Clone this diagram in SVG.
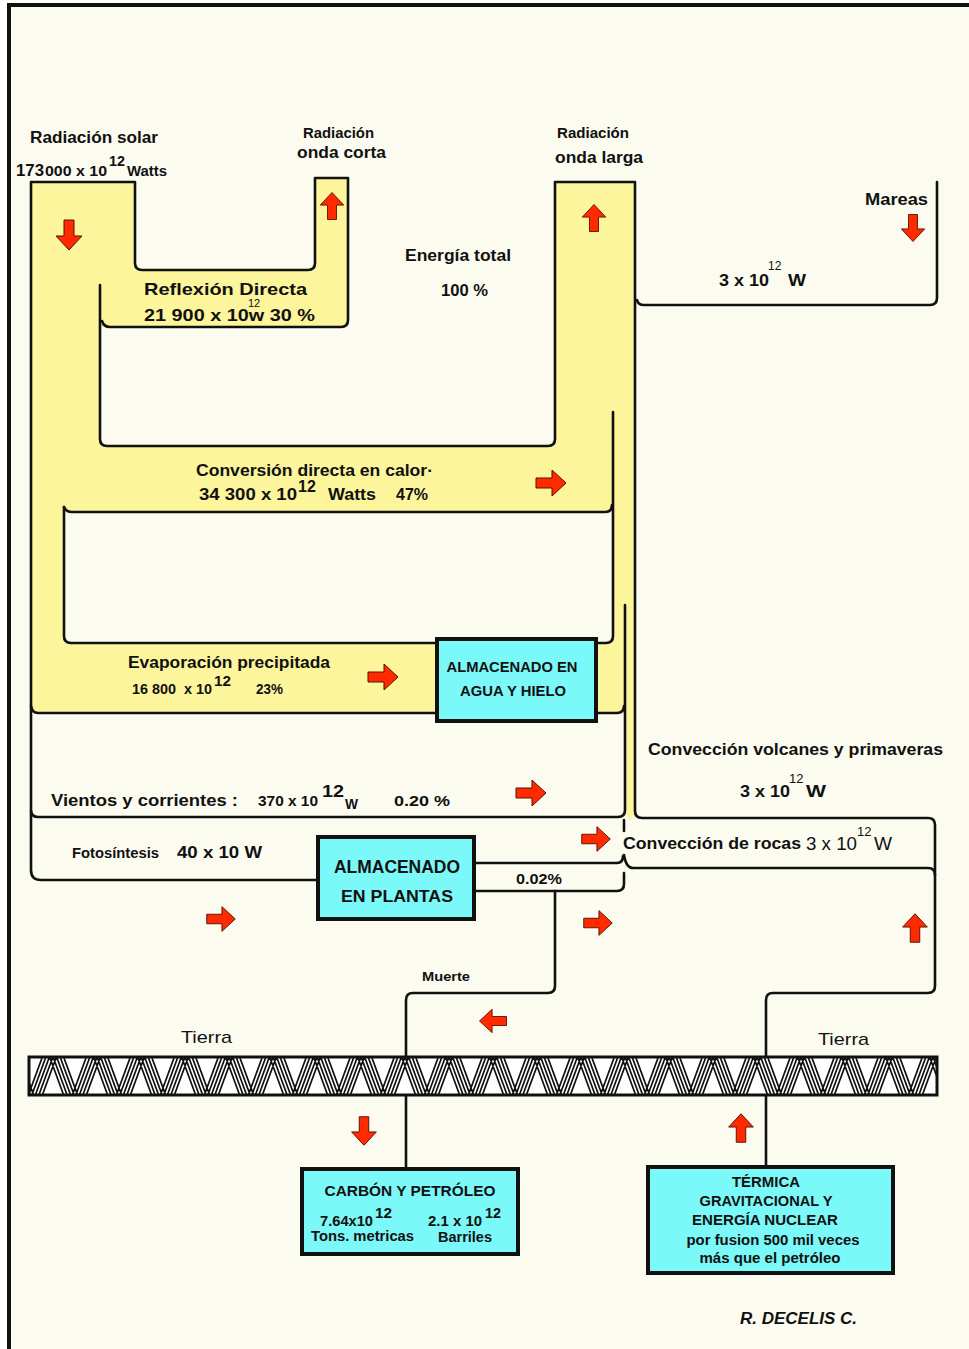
<svg xmlns="http://www.w3.org/2000/svg" xmlns:xlink="http://www.w3.org/1999/xlink" width="969" height="1349" viewBox="0 0 969 1349">
<style>
.t{font-family:"Liberation Sans",Arial,sans-serif;font-weight:bold;fill:#111}
.n{font-family:"Liberation Sans",Arial,sans-serif;font-weight:normal;fill:#111}
.ln{fill:none;stroke:#111;stroke-width:2.6;stroke-linejoin:round;stroke-linecap:round}
.box{fill:#7BF8F8;stroke:#111;stroke-width:4}
.arr{fill:#FF2A00;stroke:#5a1000;stroke-width:1}
</style>
<defs>
<path id="ar" d="M-15,-5 L1,-5 L1,-13 L15,0 L1,13 L1,5 L-15,5 Z"/>
<pattern id="hatch" x="28" y="1058" width="44" height="38" patternUnits="userSpaceOnUse">
<rect width="44" height="38" fill="#fff"/>
<path d="M0,38 L14,0 M3.5,38 L17.5,0 M7,38 L21,0 M10.5,38 L24.5,0 M14,38 L28,0 M-44,38 L-30,0 M22,0 L36,38 M25.5,0 L39.5,38 M29,0 L43,38 M32.5,0 L46.5,38 M36,0 L50,38 M-22,0 L-8,38 M-18.5,0 L-4.5,38 M-15,0 L-1,38 M-11.5,0 L2.5,38 M-8,0 L6,38" stroke="#111" stroke-width="1.7" fill="none"/>
</pattern>
</defs>
<rect width="969" height="1349" fill="#fff"/>
<rect x="9" y="5" width="960" height="1344" fill="#FBFBF0"/>
<line x1="9" y1="3" x2="9" y2="1349" stroke="#111" stroke-width="4"/>
<line x1="7" y1="5" x2="969" y2="5" stroke="#111" stroke-width="4"/>

<g id="flujo-amarillo">
<path fill="#FCF59B" fill-rule="evenodd" d="M31,182 L135,182 L135,270 L315,270 L315,178 L348,178 L348,327 L100,327 L100,446 L555,446 L555,182 L635,182 L635,812 L630,821 L625,812 L625,713 L31,713 Z M64,512 L612,512 L612,643 L64,643 Z"/>
</g>

<g id="conectores">
<path class="ln" d="M100,285 L100,439 Q100,446 107,446 L548,446 Q555,446 555,439 L555,182 L635,182 L635,811 Q635,818 642,818 L928,818 Q935,818 935,825 L935,986 Q935,993 928,993 L773,993 Q766,993 766,1000 L766,1057"/>
<path class="ln" d="M102,321 Q104,327 110,327 L341,327 Q348,327 348,320 L348,178 L315,178 L315,263 Q315,270 308,270 L142,270 Q135,270 135,263 L135,182 L31,182 L31,870 Q31,880 41,880 L318,880"/>
<path class="ln" d="M637,300 Q638,305 644,305 L930,305 Q937,305 937,298 L937,182"/>
<path class="ln" d="M64,507 L64,636 Q64,643 71,643 L437,643"/>
<path class="ln" d="M64,507 Q66,512 72,512 L605,512 Q612,512 612,505"/>
<path class="ln" d="M613,412 L613,636 Q613,643 606,643 L596,643"/>
<path class="ln" d="M31,706 Q32,713 38,713 L437,713"/>
<path class="ln" d="M596,713 L617,713 Q624,713 624,706"/>
<path class="ln" d="M625,605 L625,810 Q625,817 618,817 L38,817 Q32,817 31,811"/>
<path class="ln" d="M624,820 L624,831"/>
<path class="ln" d="M624,855 Q626,868 633,868 L928,868 Q935,868 935,875"/>
<path class="ln" d="M474,863 L617,863 Q623,863 623,856"/>
<path class="ln" d="M474,891 L617,891 Q624,891 624,884 L624,873"/>
<path class="ln" d="M555,891 L555,986 Q555,993 548,993 L413,993 Q406,993 406,1000 L406,1057"/>
<path class="ln" d="M406,1095 L406,1168"/>
<path class="ln" d="M766,1095 L766,1166"/>
</g>

<g id="tierra">
<rect x="29" y="1057" width="908" height="38" fill="url(#hatch)" stroke="#111" stroke-width="3"/>
<text class="n" x="181" y="1043" font-size="17" textLength="51" lengthAdjust="spacingAndGlyphs">Tierra</text>
<text class="n" x="818" y="1045" font-size="17" textLength="51" lengthAdjust="spacingAndGlyphs">Tierra</text>
</g>

<g id="flechas">
<use href="#ar" class="arr" transform="translate(69,235) rotate(90)"/>
<use href="#ar" class="arr" transform="translate(332,206) rotate(-90) scale(0.9)"/>
<use href="#ar" class="arr" transform="translate(594,218) rotate(-90) scale(0.9)"/>
<use href="#ar" class="arr" transform="translate(913,228) rotate(90) scale(0.9)"/>
<use href="#ar" class="arr" transform="translate(551,483)"/>
<use href="#ar" class="arr" transform="translate(383,677)"/>
<use href="#ar" class="arr" transform="translate(531,793)"/>
<use href="#ar" class="arr" transform="translate(221,919) scale(0.95)"/>
<use href="#ar" class="arr" transform="translate(596,839) scale(0.95)"/>
<use href="#ar" class="arr" transform="translate(598,923) scale(0.95)"/>
<use href="#ar" class="arr" transform="translate(915,928) rotate(-90) scale(0.95)"/>
<use href="#ar" class="arr" transform="translate(493,1021) rotate(180) scale(0.9)"/>
<use href="#ar" class="arr" transform="translate(364,1131) rotate(90) scale(0.95)"/>
<use href="#ar" class="arr" transform="translate(741,1128) rotate(-90) scale(0.95)"/>
</g>

<g id="radiacion-solar">
<text class="t" x="30" y="143" font-size="16" textLength="128" lengthAdjust="spacingAndGlyphs">Radiación solar</text>
<text class="t" x="16" y="176" font-size="16" textLength="28" lengthAdjust="spacingAndGlyphs">173</text>
<text class="t" x="45" y="176" font-size="15" textLength="62" lengthAdjust="spacingAndGlyphs">000 x 10</text>
<text class="t" x="109" y="166" font-size="15" textLength="16" lengthAdjust="spacingAndGlyphs">12</text>
<text class="t" x="127" y="176" font-size="14" textLength="40" lengthAdjust="spacingAndGlyphs">Watts</text>
</g>

<g id="onda-corta">
<text class="t" x="303" y="138" font-size="15" textLength="71" lengthAdjust="spacingAndGlyphs">Radiación</text>
<text class="t" x="297" y="158" font-size="16" textLength="89" lengthAdjust="spacingAndGlyphs">onda corta</text>
</g>

<g id="onda-larga">
<text class="t" x="557" y="138" font-size="15" textLength="72" lengthAdjust="spacingAndGlyphs">Radiación</text>
<text class="t" x="555" y="163" font-size="16" textLength="88" lengthAdjust="spacingAndGlyphs">onda larga</text>
</g>

<g id="mareas">
<text class="t" x="865" y="205" font-size="16" textLength="63" lengthAdjust="spacingAndGlyphs">Mareas</text>
<text class="t" x="719" y="286" font-size="17" textLength="50" lengthAdjust="spacingAndGlyphs">3 x 10</text>
<text class="n" x="768" y="270" font-size="12">12</text>
<text class="t" x="788" y="286" font-size="17" textLength="18" lengthAdjust="spacingAndGlyphs">W</text>
</g>

<g id="energia-total">
<text class="t" x="405" y="261" font-size="16" textLength="106" lengthAdjust="spacingAndGlyphs">Energía total</text>
<text class="t" x="441" y="296" font-size="16" textLength="47" lengthAdjust="spacingAndGlyphs">100 %</text>
</g>

<g id="reflexion">
<text class="t" x="144" y="295" font-size="17" textLength="163" lengthAdjust="spacingAndGlyphs">Reflexión  Directa</text>
<text class="n" x="248" y="307" font-size="11">12</text>
<text class="t" x="144" y="321" font-size="17" textLength="171" lengthAdjust="spacingAndGlyphs">21 900  x  10w  30 %</text>
</g>

<g id="conversion">
<text class="t" x="196" y="476" font-size="16" textLength="237" lengthAdjust="spacingAndGlyphs">Conversión directa en calor·</text>
<text class="t" x="199" y="500" font-size="16" textLength="98" lengthAdjust="spacingAndGlyphs">34 300  x  10</text>
<text class="t" x="298" y="492" font-size="16">12</text>
<text class="t" x="328" y="500" font-size="16" textLength="48" lengthAdjust="spacingAndGlyphs">Watts</text>
<text class="t" x="396" y="500" font-size="16" textLength="32" lengthAdjust="spacingAndGlyphs">47%</text>
</g>

<g id="evaporacion">
<text class="t" x="128" y="668" font-size="16" textLength="202" lengthAdjust="spacingAndGlyphs">Evaporación precipitada</text>
<text class="t" x="132" y="694" font-size="15" textLength="44" lengthAdjust="spacingAndGlyphs">16 800</text>
<text class="t" x="184" y="694" font-size="15" textLength="28" lengthAdjust="spacingAndGlyphs">x 10</text>
<text class="t" x="214" y="686" font-size="15" textLength="17" lengthAdjust="spacingAndGlyphs">12</text>
<text class="t" x="256" y="694" font-size="15" textLength="27" lengthAdjust="spacingAndGlyphs">23%</text>
</g>

<g id="agua-hielo">
<rect class="box" x="437" y="639" width="159" height="82"/>
<text class="t" x="512" y="672" font-size="14" text-anchor="middle" textLength="131" lengthAdjust="spacingAndGlyphs">ALMACENADO EN</text>
<text class="t" x="513" y="696" font-size="14" text-anchor="middle" textLength="106" lengthAdjust="spacingAndGlyphs">AGUA Y HIELO</text>
</g>

<g id="vientos">
<text class="t" x="51" y="806" font-size="16" textLength="187" lengthAdjust="spacingAndGlyphs">Vientos y corrientes :</text>
<text class="t" x="258" y="806" font-size="15" textLength="60" lengthAdjust="spacingAndGlyphs">370 x 10</text>
<text class="t" x="322" y="797" font-size="17" textLength="22" lengthAdjust="spacingAndGlyphs">12</text>
<text class="t" x="345" y="809" font-size="14" textLength="13" lengthAdjust="spacingAndGlyphs">W</text>
<text class="t" x="394" y="806" font-size="15" textLength="56" lengthAdjust="spacingAndGlyphs">0.20  %</text>
</g>

<g id="fotosintesis">
<text class="t" x="72" y="858" font-size="14" textLength="87" lengthAdjust="spacingAndGlyphs">Fotosíntesis</text>
<text class="t" x="177" y="858" font-size="17" textLength="85" lengthAdjust="spacingAndGlyphs">40 x 10 W</text>
</g>

<g id="plantas">
<rect class="box" x="318" y="837" width="156" height="82"/>
<text class="t" x="397" y="873" font-size="18" text-anchor="middle" textLength="126" lengthAdjust="spacingAndGlyphs">ALMACENADO</text>
<text class="t" x="397" y="902" font-size="17" text-anchor="middle" textLength="112" lengthAdjust="spacingAndGlyphs">EN PLANTAS</text>
<text class="t" x="516" y="884" font-size="14" textLength="46" lengthAdjust="spacingAndGlyphs">0.02%</text>
</g>

<g id="conveccion-volcanes">
<text class="t" x="648" y="755" font-size="16" textLength="295" lengthAdjust="spacingAndGlyphs">Convección volcanes y primaveras</text>
<text class="t" x="740" y="797" font-size="17" textLength="50" lengthAdjust="spacingAndGlyphs">3 x 10</text>
<text class="n" x="789" y="783" font-size="13">12</text>
<text class="t" x="806" y="797" font-size="17" textLength="20" lengthAdjust="spacingAndGlyphs">W</text>
</g>

<g id="conveccion-rocas">
<text class="t" x="623" y="849" font-size="16" textLength="178" lengthAdjust="spacingAndGlyphs">Convección de rocas</text>
<text class="n" x="806" y="850" font-size="19" textLength="51" lengthAdjust="spacingAndGlyphs">3 x 10</text>
<text class="n" x="857" y="836" font-size="13">12</text>
<text class="n" x="874" y="850" font-size="19" textLength="18" lengthAdjust="spacingAndGlyphs">W</text>
</g>

<g id="muerte">
<text class="t" x="422" y="981" font-size="13" textLength="48" lengthAdjust="spacingAndGlyphs">Muerte</text>
</g>

<g id="carbon-petroleo">
<rect class="box" x="302" y="1169" width="216" height="85"/>
<text class="t" x="410" y="1196" font-size="15" text-anchor="middle" textLength="171" lengthAdjust="spacingAndGlyphs">CARBÓN  Y  PETRÓLEO</text>
<text class="t" x="320" y="1226" font-size="15" textLength="53" lengthAdjust="spacingAndGlyphs">7.64x10</text>
<text class="t" x="375" y="1218" font-size="15" textLength="17" lengthAdjust="spacingAndGlyphs">12</text>
<text class="t" x="428" y="1226" font-size="15" textLength="54" lengthAdjust="spacingAndGlyphs">2.1 x 10</text>
<text class="t" x="485" y="1218" font-size="15" textLength="16" lengthAdjust="spacingAndGlyphs">12</text>
<text class="t" x="311" y="1241" font-size="14" textLength="103" lengthAdjust="spacingAndGlyphs">Tons. metricas</text>
<text class="t" x="438" y="1242" font-size="14" textLength="54" lengthAdjust="spacingAndGlyphs">Barriles</text>
</g>

<g id="termica">
<rect class="box" x="648" y="1167" width="245" height="106"/>
<text class="t" x="766" y="1187" font-size="14" text-anchor="middle" textLength="68" lengthAdjust="spacingAndGlyphs">TÉRMICA</text>
<text class="t" x="766" y="1206" font-size="14" text-anchor="middle" textLength="133" lengthAdjust="spacingAndGlyphs">GRAVITACIONAL Y</text>
<text class="t" x="765" y="1225" font-size="14" text-anchor="middle" textLength="146" lengthAdjust="spacingAndGlyphs">ENERGÍA NUCLEAR</text>
<text class="t" x="773" y="1245" font-size="14" text-anchor="middle" textLength="173" lengthAdjust="spacingAndGlyphs">por fusion 500 mil veces</text>
<text class="t" x="770" y="1263" font-size="14" text-anchor="middle" textLength="141" lengthAdjust="spacingAndGlyphs">más que el petróleo</text>
</g>

<g id="autor">
<text class="t" x="740" y="1324" font-size="16" font-style="italic" textLength="117" lengthAdjust="spacingAndGlyphs">R. DECELIS C.</text>
</g>
</svg>
